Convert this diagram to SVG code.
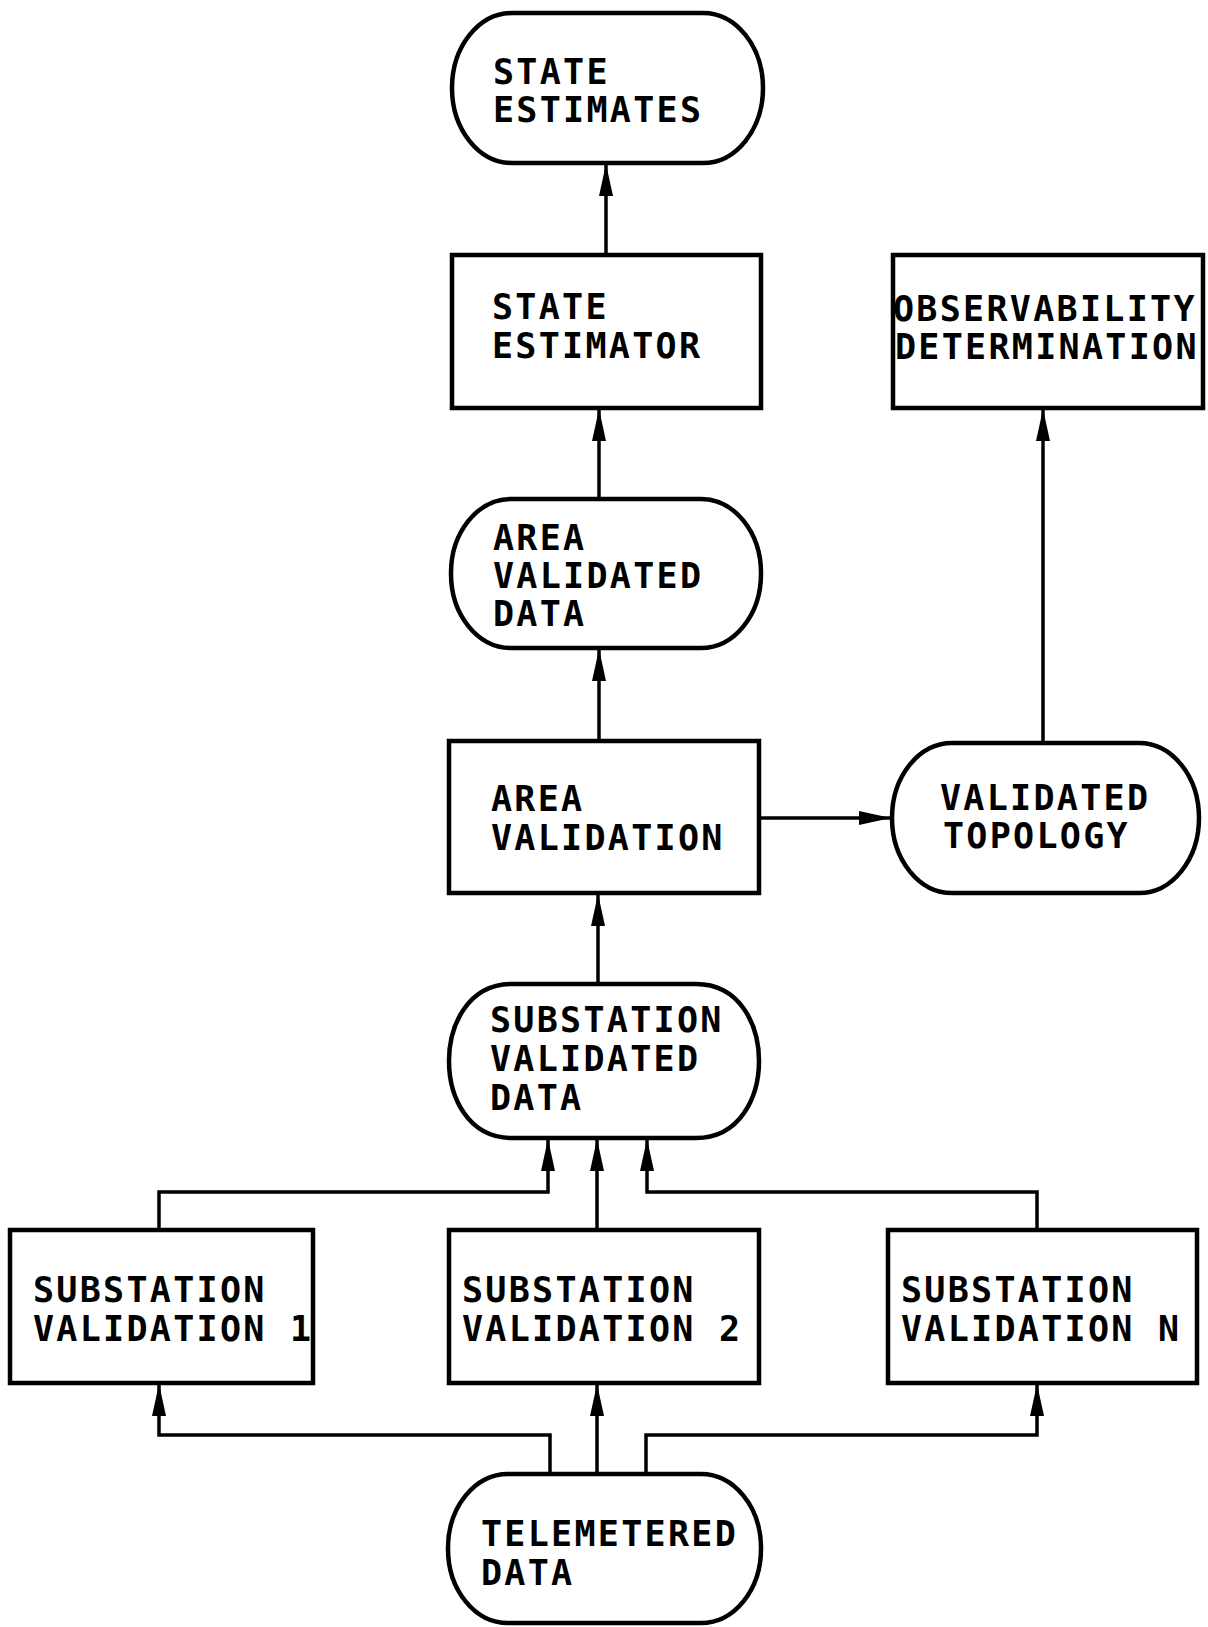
<svg xmlns="http://www.w3.org/2000/svg" width="1208" height="1627" viewBox="0 0 1208 1627">
  <style>
    .box { fill: #fff; stroke: #000; stroke-width: 4.5; }
    .lbl { font-family: "DejaVu Sans Mono", "Liberation Mono", monospace; font-size: 35px; font-weight: bold; letter-spacing: 2.3px; fill: #000; }
    .wire { fill: none; stroke: #000; stroke-width: 3.5; }
  </style>
  <defs>
    <marker id="head" markerUnits="userSpaceOnUse" markerWidth="32" markerHeight="14" refX="32" refY="7" orient="auto">
      <path d="M0,0 L32,7 L0,14 z" fill="#000"/>
    </marker>
  </defs>
  <rect width="1208" height="1627" fill="#fff"/>

  <!-- connectors -->
  <g id="connectors">
    <line class="wire" x1="606" y1="255" x2="606" y2="164" marker-end="url(#head)"/>
    <line class="wire" x1="599" y1="499" x2="599" y2="409" marker-end="url(#head)"/>
    <line class="wire" x1="599" y1="741" x2="599" y2="649" marker-end="url(#head)"/>
    <line class="wire" x1="759" y1="818" x2="891" y2="818" marker-end="url(#head)"/>
    <line class="wire" x1="1043" y1="743" x2="1043" y2="409" marker-end="url(#head)"/>
    <line class="wire" x1="598" y1="984" x2="598" y2="894" marker-end="url(#head)"/>
    <path class="wire" d="M159,1230 V1192 H548 V1139" marker-end="url(#head)"/>
    <line class="wire" x1="597" y1="1230" x2="597" y2="1139" marker-end="url(#head)"/>
    <path class="wire" d="M1037,1230 V1192 H647 V1139" marker-end="url(#head)"/>
    <path class="wire" d="M550,1474 V1435 H159 V1384" marker-end="url(#head)"/>
    <line class="wire" x1="597" y1="1474" x2="597" y2="1384" marker-end="url(#head)"/>
    <path class="wire" d="M646,1474 V1435 H1037 V1384" marker-end="url(#head)"/>
  </g>

  <g id="state-estimates">
    <rect class="box" x="452" y="13" width="311" height="150" rx="60" ry="75"/>
    <text class="lbl" x="493" y="84">STATE</text>
    <text class="lbl" x="493" y="122">ESTIMATES</text>
  </g>

  <g id="state-estimator">
    <rect class="box" x="452" y="255" width="309" height="153"/>
    <text class="lbl" x="492" y="319">STATE</text>
    <text class="lbl" x="492" y="358">ESTIMATOR</text>
  </g>

  <g id="observability-determination">
    <rect class="box" x="893" y="255" width="310" height="153"/>
    <text class="lbl" x="893" y="321">OBSERVABILITY</text>
    <text class="lbl" x="895" y="359">DETERMINATION</text>
  </g>

  <g id="area-validated-data">
    <rect class="box" x="451" y="499" width="310" height="149" rx="60" ry="74"/>
    <text class="lbl" x="493" y="550">AREA</text>
    <text class="lbl" x="493" y="588">VALIDATED</text>
    <text class="lbl" x="493" y="626">DATA</text>
  </g>

  <g id="area-validation">
    <rect class="box" x="449" y="741" width="310" height="152"/>
    <text class="lbl" x="491" y="811">AREA</text>
    <text class="lbl" x="491" y="850">VALIDATION</text>
  </g>

  <g id="validated-topology">
    <rect class="box" x="892" y="743" width="307" height="150" rx="60" ry="75"/>
    <text class="lbl" x="940" y="810">VALIDATED</text>
    <text class="lbl" x="943" y="848">TOPOLOGY</text>
  </g>

  <g id="substation-validated-data">
    <path class="box" d="M512,984 H696 C740,984 759,1025 759,1061 C759,1097 740,1138 696,1138 H512 C468,1138 449,1097 449,1061 C449,1025 468,984 512,984 Z"/>
    <text class="lbl" x="490" y="1032">SUBSTATION</text>
    <text class="lbl" x="490" y="1071">VALIDATED</text>
    <text class="lbl" x="490" y="1110">DATA</text>
  </g>

  <g id="substation-validation-1">
    <rect class="box" x="10" y="1230" width="303" height="153"/>
    <text class="lbl" x="33" y="1302">SUBSTATION</text>
    <text class="lbl" x="33" y="1341">VALIDATION 1</text>
  </g>

  <g id="substation-validation-2">
    <rect class="box" x="449" y="1230" width="310" height="153"/>
    <text class="lbl" x="462" y="1302">SUBSTATION</text>
    <text class="lbl" x="462" y="1341">VALIDATION 2</text>
  </g>

  <g id="substation-validation-n">
    <rect class="box" x="888" y="1230" width="309" height="153"/>
    <text class="lbl" x="901" y="1302">SUBSTATION</text>
    <text class="lbl" x="901" y="1341">VALIDATION N</text>
  </g>

  <g id="telemetered-data">
    <rect class="box" x="448" y="1474" width="313" height="149" rx="60" ry="74"/>
    <text class="lbl" x="481" y="1546">TELEMETERED</text>
    <text class="lbl" x="481" y="1585">DATA</text>
  </g>
</svg>
